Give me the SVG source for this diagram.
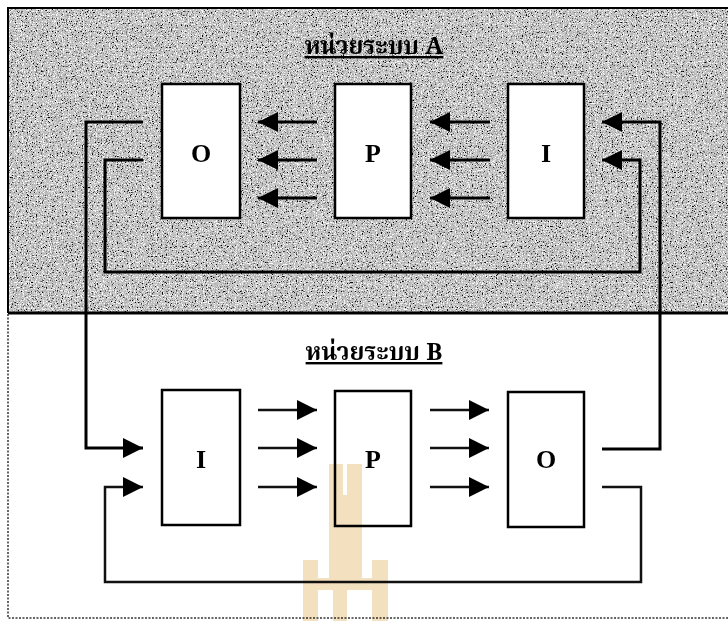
<svg xmlns="http://www.w3.org/2000/svg" width="728" height="621" viewBox="0 0 728 621">
<style>
.box{fill:#fff;stroke:#000;stroke-width:2.5}
.ln{fill:none;stroke:#000;stroke-width:3}
.lnb{fill:none;stroke:#111;stroke-width:2.5}
.lbl{font-family:"Liberation Serif","Times New Roman",serif;font-weight:bold;font-size:26px;text-anchor:middle;fill:#000}
.title{font-family:"Noto Serif Thai","Noto Sans Thai","Loma","Garuda","Tlwg Typo","DejaVu Sans","Liberation Serif",serif;font-weight:bold;font-size:24px;text-anchor:middle;fill:#000;text-decoration:underline}
.wm{fill:#f2e0bf}
</style>
<defs>
<filter id="grain" x="0" y="0" width="100%" height="100%">
<feTurbulence type="fractalNoise" baseFrequency="0.8" numOctaves="2" seed="3" result="n"/>
<feColorMatrix in="n" type="matrix" values="0 0 0 0 0  0 0 0 0 0  0 0 0 0 0  6 0 0 0 -3.5" result="a"/>
<feComposite in="a" in2="SourceGraphic" operator="in"/>
</filter>
<filter id="grainw" x="0" y="0" width="100%" height="100%">
<feTurbulence type="fractalNoise" baseFrequency="0.85" numOctaves="2" seed="11" result="n"/>
<feColorMatrix in="n" type="matrix" values="0 0 0 0 1  0 0 0 0 1  0 0 0 0 1  0 5 0 0 -2.5" result="a"/>
<feComposite in="a" in2="SourceGraphic" operator="in"/>
</filter>
<marker id="ah" viewBox="0 0 10 10" refX="10" refY="5" markerWidth="20" markerHeight="20" markerUnits="userSpaceOnUse" orient="auto">
<path d="M0,0 L10,5 L0,10 Z" fill="#000"/>
</marker>
</defs>

<rect x="0" y="0" width="728" height="621" fill="#fff"/>
<g id="systemA-bg">
<rect x="8" y="8" width="720" height="305" fill="#bdbdbd"/>
<rect x="8" y="8" width="720" height="305" fill="#000" filter="url(#grain)"/>
<rect x="8" y="8" width="720" height="305" fill="#fff" filter="url(#grainw)"/>
<path d="M8,313 V8 H728" fill="none" stroke="#000" stroke-width="2"/>
<line x1="8" y1="313" x2="728" y2="313" stroke="#000" stroke-width="3"/>
</g>
<g id="systemB-bg">
<path d="M8,314 V618 H728" fill="none" stroke="#333" stroke-width="1.5" stroke-dasharray="2,1.5"/>
</g>

<g id="titleA"><text class="title" x="374" y="54">หน่วยระบบ A</text></g>
<g id="titleB"><text class="title" x="374" y="360">หน่วยระบบ B</text></g>

<g id="A-O"><rect class="box" x="162" y="84" width="78" height="134"/><text class="lbl" x="201" y="162">O</text></g>
<g id="A-P"><rect class="box" x="335" y="84" width="76" height="134"/><text class="lbl" x="373" y="162">P</text></g>
<g id="A-I"><rect class="box" x="508" y="84" width="76" height="134"/><text class="lbl" x="546" y="162">I</text></g>

<g id="B-I"><rect class="box" x="162" y="390" width="78" height="135"/><text class="lbl" x="201" y="468">I</text></g>
<g id="B-P"><rect class="box" x="335" y="391" width="76" height="135"/><text class="lbl" x="373" y="468">P</text></g>
<g id="B-O"><rect class="box" x="508" y="392" width="76" height="135"/><text class="lbl" x="546" y="468">O</text></g>

<g id="connectors">
<line class="ln" x1="317" y1="122" x2="258" y2="122" marker-end="url(#ah)"/>
<line class="ln" x1="317" y1="160" x2="258" y2="160" marker-end="url(#ah)"/>
<line class="ln" x1="317" y1="198" x2="258" y2="198" marker-end="url(#ah)"/>
<line class="ln" x1="490" y1="122" x2="430" y2="122" marker-end="url(#ah)"/>
<line class="ln" x1="490" y1="160" x2="430" y2="160" marker-end="url(#ah)"/>
<line class="ln" x1="490" y1="198" x2="430" y2="198" marker-end="url(#ah)"/>
<polyline class="ln" points="143,160 105,160 105,272 640,272 640,160 602,160" marker-end="url(#ah)"/>
<polyline class="ln" points="143,122 86,122 86,448 143,448" marker-end="url(#ah)"/>
<polyline class="ln" points="602,449 660,449 660,122 602,122" marker-end="url(#ah)"/>
<line class="lnb" x1="258" y1="410" x2="317" y2="410" marker-end="url(#ah)"/>
<line class="lnb" x1="258" y1="448" x2="317" y2="448" marker-end="url(#ah)"/>
<line class="lnb" x1="258" y1="487" x2="317" y2="487" marker-end="url(#ah)"/>
<line class="lnb" x1="430" y1="410" x2="489" y2="410" marker-end="url(#ah)"/>
<line class="lnb" x1="430" y1="448" x2="489" y2="448" marker-end="url(#ah)"/>
<line class="lnb" x1="430" y1="487" x2="489" y2="487" marker-end="url(#ah)"/>
<polyline class="lnb" points="602,487 641,487 641,582 105,582 105,487 143,487" marker-end="url(#ah)"/>
</g>

<g id="watermark" style="mix-blend-mode:multiply">
<rect class="wm" x="329" y="464" width="14" height="31"/>
<rect class="wm" x="347" y="464" width="15" height="31"/>
<rect class="wm" x="329" y="495" width="33" height="65"/>
<rect class="wm" x="303" y="560" width="15" height="61"/>
<rect class="wm" x="372" y="560" width="16" height="61"/>
<rect class="wm" x="318" y="578" width="54" height="12"/>
<rect class="wm" x="329" y="560" width="33" height="18"/>
<rect class="wm" x="333" y="590" width="14" height="31"/>
</g>
</svg>
